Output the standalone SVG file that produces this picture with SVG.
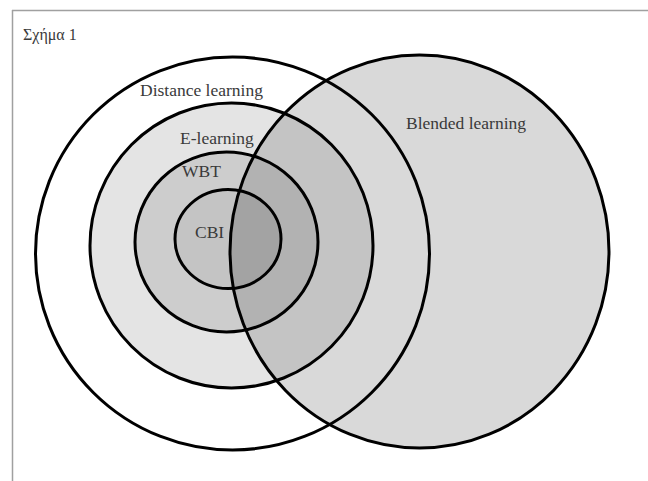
<svg xmlns="http://www.w3.org/2000/svg" width="648" height="481" viewBox="0 0 648 481">
<style>
.ring{fill:none;stroke:#000;stroke-width:3}
.lbl{font-family:"Liberation Serif","Times New Roman",serif;font-size:17.5px;fill:#3a3a3a}
</style>
<defs>
<clipPath id="blendClip"><ellipse cx="419.5" cy="251.5" rx="189.5" ry="196.5"/></clipPath>
</defs>
<rect x="0" y="0" width="648" height="481" fill="#fff"/>
<g id="frame">
<line x1="12" y1="10.5" x2="648" y2="10.5" stroke="#a0a0a0" stroke-width="1.5"/>
<line x1="12.5" y1="10" x2="12.5" y2="481" stroke="#a0a0a0" stroke-width="1.5"/>
</g>
<text class="lbl" x="23" y="40" style="font-size:16px">Σχήμα 1</text>
<g id="fills">
<ellipse cx="232.5" cy="253.5" rx="197" ry="196.5" fill="#ffffff"/>
<ellipse cx="231.5" cy="245.5" rx="141.5" ry="142.5" fill="#e4e4e4"/>
<ellipse cx="226.5" cy="242" rx="91.5" ry="90" fill="#cdcdcd"/>
<ellipse cx="228" cy="239" rx="53" ry="49.5" fill="#c4c4c4"/>
<ellipse cx="419.5" cy="251.5" rx="189.5" ry="196.5" fill="#d9d9d9"/>
<g clip-path="url(#blendClip)">
<ellipse cx="231.5" cy="245.5" rx="141.5" ry="142.5" fill="#c4c4c4"/>
<ellipse cx="226.5" cy="242" rx="91.5" ry="90" fill="#b2b2b2"/>
<ellipse cx="228" cy="239" rx="53" ry="49.5" fill="#a3a3a3"/>
</g>
</g>
<g id="node-distance">
<ellipse class="ring" cx="232.5" cy="253.5" rx="197" ry="196.5"/>
<text class="lbl" x="140" y="96">Distance learning</text>
</g>
<g id="node-elearning">
<ellipse class="ring" cx="231.5" cy="245.5" rx="141.5" ry="142.5"/>
<text class="lbl" x="180" y="144">E-learning</text>
</g>
<g id="node-wbt">
<ellipse class="ring" cx="226.5" cy="242" rx="91.5" ry="90"/>
<text class="lbl" x="182" y="177">WBT</text>
</g>
<g id="node-cbi">
<ellipse class="ring" cx="228" cy="239" rx="53" ry="49.5"/>
<text class="lbl" x="195" y="238">CBI</text>
</g>
<g id="node-blended">
<ellipse class="ring" cx="419.5" cy="251.5" rx="189.5" ry="196.5"/>
<text class="lbl" x="406" y="129">Blended learning</text>
</g>
<g id="connectors"></g>
</svg>
